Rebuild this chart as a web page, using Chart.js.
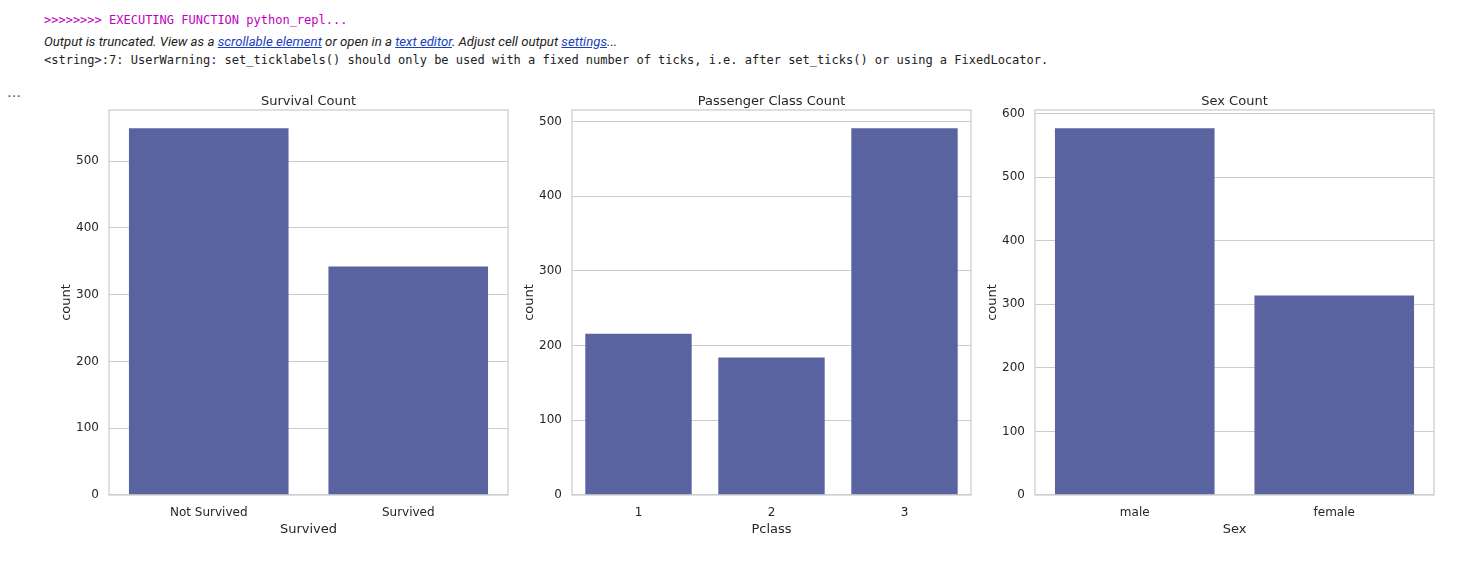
<!DOCTYPE html>
<html>
<head>
<meta charset="utf-8">
<script src="https://cdn.jsdelivr.net/npm/chart.js@4"></script>
<style>
  body { margin: 0; background: #fff; width: 1468px; height: 577px; position: relative; overflow: hidden; }
  .line { position: absolute; left: 44px; white-space: nowrap; }
  #exec { top: 13px; font: 12px "DejaVu Sans Mono", monospace; color: #c000c0; }
  #trunc { top: 34px; font: italic 13.2px Roboto, "Noto Sans", sans-serif; color: #222; }
  #trunc a { color: #1a3fbf; text-decoration: underline; }
  #warn { top: 53px; font: 12px "DejaVu Sans Mono", monospace; color: #222; }
  #dots { position: absolute; left: 7px; top: 84px; font: 14px "DejaVu Sans", sans-serif; color: #555; }
  canvas { position: absolute; top: 86px; }
</style>
</head>
<body>
<div class="line" id="exec">&gt;&gt;&gt;&gt;&gt;&gt;&gt;&gt; EXECUTING FUNCTION python_repl...</div>
<div class="line" id="trunc">Output is truncated. View as a <a>scrollable element</a> or open in a <a>text editor</a>. Adjust cell output <a>settings</a>...</div>
<div class="line" id="warn">&lt;string&gt;:7: UserWarning: set_ticklabels() should only be used with a fixed number of ticks, i.e. after set_ticks() or using a FixedLocator.</div>
<div id="dots">…</div>

<canvas id="c1" width="462" height="454" style="left:50px"></canvas>
<canvas id="c2" width="462" height="454" style="left:513px"></canvas>
<canvas id="c3" width="462" height="454" style="left:976px"></canvas>

<script>
// data (Titanic counts)
const survivedLabels = ['Not Survived', 'Survived'];
const survivedCounts = [549, 342];

const classLabels = ['1', '2', '3'];
const classCounts = [216, 184, 491];

const sexLabels = ['male', 'female'];
const sexCounts = [577, 314];

const barColor = '#59639f';
const gridColor = '#cccccc';
const textColor = '#262626';
const fontFamily = '"DejaVu Sans", sans-serif';

// full box around the plot area (matplotlib spines) + title centred on the plot area
const framePlugin = {
  id: 'frame',
  afterDatasetsDraw(chart) {
    const a = chart.chartArea;
    const ctx = chart.ctx;
    ctx.save();
    ctx.strokeStyle = gridColor;
    ctx.lineWidth = 1.25;
    ctx.strokeRect(a.left, a.top, a.right - a.left, a.bottom - a.top);
    const t = chart.options.plugins.frame.title;
    ctx.fillStyle = textColor;
    ctx.font = '13px ' + fontFamily;
    ctx.textAlign = 'center';
    ctx.textBaseline = 'middle';
    ctx.fillText(t, (a.left + a.right) / 2, a.top - 8);
    ctx.restore();
  }
};

function makeChart(id, labels, counts, title, xTitle) {
  const yMax = Math.max(...counts) * 1.05;
  return new Chart(document.getElementById(id).getContext('2d'), {
    type: 'bar',
    data: {
      labels: labels,
      datasets: [{
        data: counts,
        backgroundColor: barColor,
        barPercentage: 1,
        categoryPercentage: 0.8
      }]
    },
    options: {
      responsive: false,
      animation: false,
      layout: { padding: { left: 0, right: 4, top: 24, bottom: 0 } },
      plugins: {
        legend: { display: false },
        tooltip: { enabled: false },
        title: { display: false },
        frame: { title: title }
      },
      scales: {
        x: {
          afterFit(scale) { scale.height = 45; },
          grid: { display: false, drawTicks: false },
          border: { display: false },
          ticks: { color: textColor, font: { family: fontFamily, size: 12 }, padding: 11, maxRotation: 0 },
          title: {
            display: true, text: xTitle, color: textColor,
            font: { family: fontFamily, size: 13 },
            padding: { top: 2, bottom: 3 }
          }
        },
        y: {
          min: 0,
          max: yMax,
          afterFit(scale) { scale.width = 59; },
          afterBuildTicks(scale) {
            const ticks = [];
            for (let v = 0; v <= scale.max; v += 100) ticks.push({ value: v });
            scale.ticks = ticks;
          },
          grid: { color: gridColor, lineWidth: 1.1, drawTicks: false },
          border: { display: false },
          ticks: {
            color: textColor,
            font: { family: fontFamily, size: 12 }, padding: 10
          },
          title: {
            display: true, text: 'count', color: textColor,
            font: { family: fontFamily, size: 13 },
            padding: { top: 9, bottom: 0 }
          }
        }
      }
    },
    plugins: [framePlugin]
  });
}

makeChart('c1', survivedLabels, survivedCounts, 'Survival Count', 'Survived');
makeChart('c2', classLabels, classCounts, 'Passenger Class Count', 'Pclass');
makeChart('c3', sexLabels, sexCounts, 'Sex Count', 'Sex');
</script>
</body>
</html>
